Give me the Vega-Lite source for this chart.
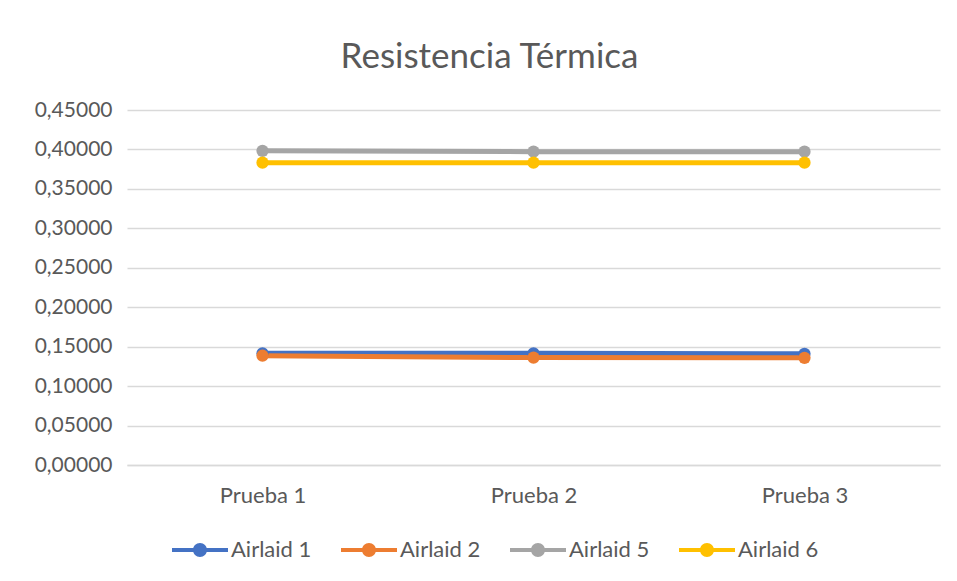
{
  "$schema": "https://vega.github.io/schema/vega-lite/v6.json",
  "autosize": "none",
  "width": 813,
  "height": 355,
  "padding": {"left": 127, "top": 110, "right": 17, "bottom": 116},
  "background": "white",
  "title": {
    "text": "Resistencia Térmica",
    "font": "Lato",
    "fontSize": 35,
    "fontWeight": "normal",
    "color": "#595959",
    "anchor": "middle",
    "baseline": "alphabetic",
    "offset": -4,
    "dx": -44
  },
  "data": {
    "values": [
      {"prueba": "Prueba 1", "serie": "Airlaid 1", "valor": 0.1415},
      {"prueba": "Prueba 2", "serie": "Airlaid 1", "valor": 0.1415},
      {"prueba": "Prueba 3", "serie": "Airlaid 1", "valor": 0.1410},
      {"prueba": "Prueba 1", "serie": "Airlaid 2", "valor": 0.1385},
      {"prueba": "Prueba 2", "serie": "Airlaid 2", "valor": 0.1362},
      {"prueba": "Prueba 3", "serie": "Airlaid 2", "valor": 0.1358},
      {"prueba": "Prueba 1", "serie": "Airlaid 5", "valor": 0.3982},
      {"prueba": "Prueba 2", "serie": "Airlaid 5", "valor": 0.3972},
      {"prueba": "Prueba 3", "serie": "Airlaid 5", "valor": 0.3972},
      {"prueba": "Prueba 1", "serie": "Airlaid 6", "valor": 0.3832},
      {"prueba": "Prueba 2", "serie": "Airlaid 6", "valor": 0.3832},
      {"prueba": "Prueba 3", "serie": "Airlaid 6", "valor": 0.3832}
    ]
  },
  "mark": {"type": "line", "strokeWidth": 5, "point": {"size": 150, "filled": true, "opacity": 1}},
  "encoding": {
    "x": {
      "field": "prueba",
      "type": "ordinal",
      "scale": {"type": "point", "padding": 0.5},
      "axis": {
        "title": null,
        "labelAngle": 0,
        "ticks": false,
        "labelPadding": 20,
        "labelFont": "Lato",
        "labelFontSize": 22,
        "labelColor": "#595959",
        "domainColor": "#d9d9d9",
        "domainWidth": 1.3
      }
    },
    "y": {
      "field": "valor",
      "type": "quantitative",
      "scale": {"domain": [0, 0.45]},
      "axis": {
        "title": null,
        "values": [0, 0.05, 0.1, 0.15, 0.2, 0.25, 0.3, 0.35, 0.4, 0.45],
        "labelExpr": "replace(format(datum.value, '.5f'), '.', ',')",
        "domain": false,
        "ticks": false,
        "labelPadding": 15,
        "labelFont": "Lato",
        "labelFontSize": 21,
        "labelColor": "#595959",
        "gridColor": "#d9d9d9",
        "gridWidth": 1.3
      }
    },
    "color": {
      "field": "serie",
      "type": "nominal",
      "scale": {
        "domain": ["Airlaid 1", "Airlaid 2", "Airlaid 5", "Airlaid 6"],
        "range": ["#4472C4", "#ED7D31", "#A5A5A5", "#FFC000"]
      },
      "legend": {
        "title": null,
        "orient": "none",
        "direction": "horizontal",
        "legendX": 59,
        "legendY": 426,
        "symbolType": "M-2,-0.15 L2,-0.15 L2,0.15 L-2,0.15 Z M0.5,0 A0.5,0.5 0 1,1 -0.5,0 A0.5,0.5 0 1,1 0.5,0 Z",
        "symbolSize": 784,
        "symbolStrokeWidth": 0,
        "symbolOpacity": 1,
        "labelFont": "Lato",
        "labelFontSize": 22,
        "labelColor": "#595959",
        "labelOffset": 17,
        "columnPadding": 29
      }
    }
  },
  "config": {"view": {"stroke": null}}
}
